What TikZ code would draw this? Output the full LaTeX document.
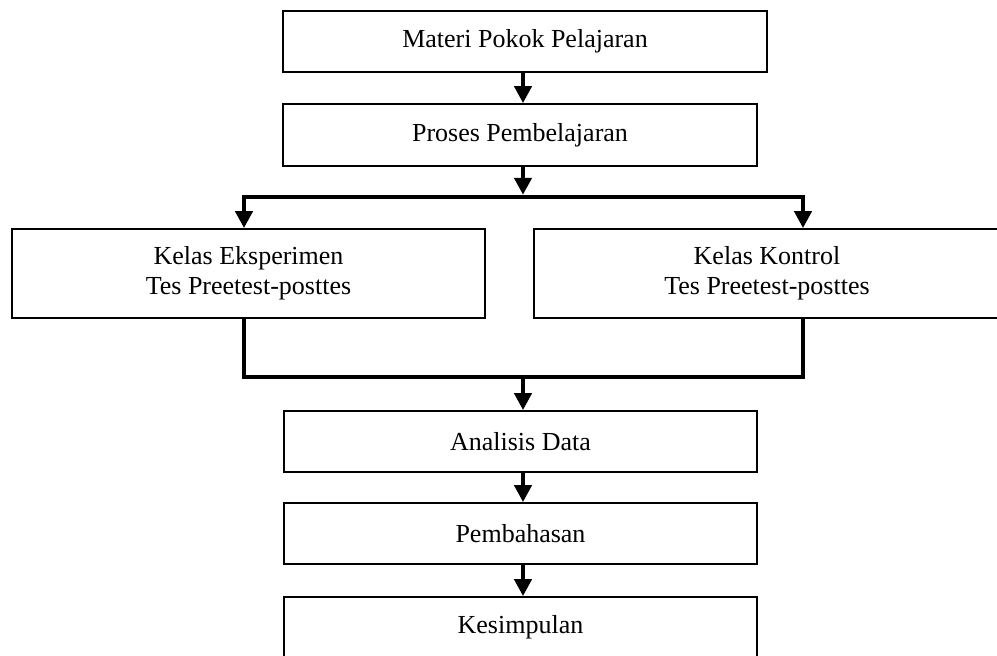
\documentclass[tikz,border=0pt]{standalone}
\usepackage{fontspec}
\setmainfont{Liberation Serif}
\usetikzlibrary{arrows.meta,positioning}

\begin{document}
\begin{tikzpicture}[x=0.5pt,y=-0.5pt,
    font=\fontsize{13}{15}\selectfont,
    box/.style={draw,line width=0.9pt,inner sep=0pt,align=center,
      minimum height=30.5pt},
    link/.style={line width=2.2pt},
    arr/.style={link,-{Triangle[width=8.5pt,length=8.5pt]}},
    arrs/.style={link,{Triangle[width=8.5pt,length=8.5pt]}-{Triangle[width=8.5pt,length=8.5pt]}}]
   \useasboundingbox (0,0) rectangle (997,655);
   \node[box,minimum width=242pt] (materi) at (525,41.5) {Materi Pokok Pelajaran};
   \node[box,minimum width=237pt,minimum height=31pt] (proses) at (520,135) {Proses Pembelajaran};
   \node[box,minimum width=236.5pt,minimum height=44.5pt] (eksperimen) at (248.5,273.5) {Kelas Eksperimen\\Tes Preetest-posttes};
   \node[box,minimum width=233pt,minimum height=44.5pt] (kontrol) at (767,273.5) {Kelas Kontrol\\Tes Preetest-posttes};
   \node[box,minimum width=236.5pt] (analisis) at (520.5,441.5) {Analisis Data};
   \node[box,minimum width=236.5pt] (pembahasan) at (520.5,533.5) {Pembahasan};
   \node[box,minimum width=236.5pt] (kesimpulan) at (520.5,627.5) {Kesimpulan};
   % branch points
   \coordinate (mid) at (523,0);
   \coordinate (splitL) at (244,197);
   \coordinate (splitR) at (803,197);
   \coordinate (joinL) at (244,377);
   \coordinate (joinR) at (803,377);
   \path[arr]
    (materi.south -| mid) edge (proses.north -| mid)
    (proses.south -| mid) edge ([yshift=1.1pt]splitL -| mid)
    (joinL -| mid) edge (analisis.north -| mid)
    (analisis.south -| mid) edge (pembahasan.north -| mid)
    (pembahasan.south -| mid) edge (kesimpulan.north -| mid);
   \draw[arrs] (eksperimen.north -| splitL) -- (splitL) -- (splitR) -- (kontrol.north -| splitR);
   \draw[link] (eksperimen.south -| joinL) -- (joinL) -- (joinR) -- (kontrol.south -| joinR);
\end{tikzpicture}
\end{document}
